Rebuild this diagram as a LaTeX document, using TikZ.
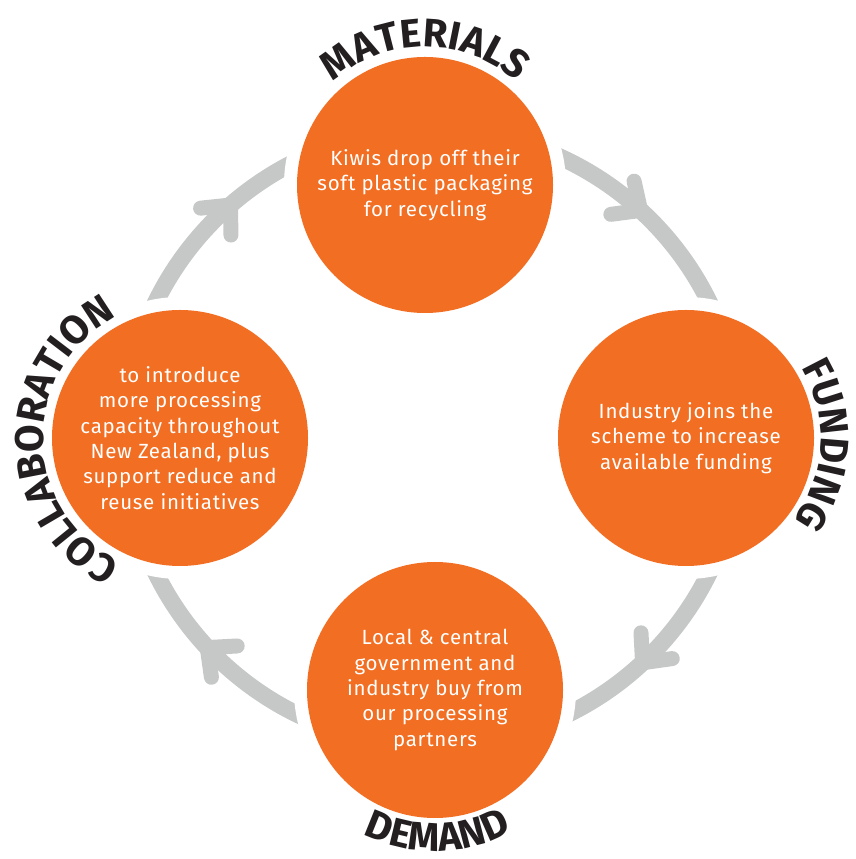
\documentclass[tikz,border=0pt]{standalone}
\usepackage{fontspec}
\usetikzlibrary{decorations.text,calc}
\newfontfamily\bodyf{Fira Sans}[LetterSpace=3.5]
\newfontfamily\labf{Fira Sans}
\definecolor{orng}{RGB}{242,110,34}
\definecolor{ringgray}{RGB}{198,200,199}
\definecolor{labblack}{RGB}{35,31,32}
\tikzset{
  disc/.style={circle, fill=orng, minimum size=256pt, inner sep=0pt, align=center, text=white, font=\bodyf\fontsize{20.5}{25.3}\selectfont},
  halo/.style={circle, fill=white, minimum size=282pt, inner sep=0pt},
  chev/.style={draw=ringgray, line width=15pt, line cap=round, line join=round},
  ring/.style={draw=ringgray, line width=17pt}
}
\begin{document}
\begin{tikzpicture}[x=1pt,y=1pt]
\useasboundingbox (0,0) rectangle (856,859);
\coordinate (C) at (432.5,421.5);
\draw[ring] (C) circle[radius=308];
% chevron joints
\coordinate (j1) at ($(C)+(47.5:308)$);
\coordinate (j2) at ($(C)+(-47:308)$);
\coordinate (j3) at ($(C)+(-137:308)$);
\coordinate (j4) at ($(C)+(131:308)$);
\draw[chev] ($(j1)+(47.5+55:30)$) -- (j1) -- ($(j1)+(47.5+140:30)$);
\draw[chev] ($(j2)+(-47+55:30)$) -- (j2) -- ($(j2)+(-47+140:30)$);
\draw[chev] ($(j3)+(-137+55:30)$) -- (j3) -- ($(j3)+(-137+140:30)$);
\draw[chev] ($(j4)+(131+55:30)$) -- (j4) -- ($(j4)+(131+140:30)$);
% halos
\node[halo] (hmat) at (425,674) {};
\node[halo] (hfun) at (686,421) {};
\node[halo] (hdem) at (435,169) {};
\node[halo] (hcol) at (180,421) {};
% discs
\node[disc] (mat) at (425,674) {Kiwis drop off their\\soft plastic packaging\\for recycling};
\node[disc] (fun) at (686,421) {Industry joins the\\scheme to increase\\available funding};
\node[disc] (dem) at (435,169) {Local \& central\\government and\\industry buy from\\our processing\\partners};
\node[disc] (col) at (180,421) {to introduce\\more processing\\capacity throughout\\New Zealand, plus\\support reduce and\\reuse initiatives};
% curved labels
\path[decorate, decoration={text along path, text align=center, text color=labblack,
  text={|\labf\bfseries\fontsize{40}{44}\selectfont|MATERIALS}}]
  ($(mat.center)+(180:138)$) arc[start angle=180, end angle=0, radius=138];
\path[decorate, decoration={text along path, text align=center, text color=labblack,
  text={|\labf\bfseries\fontsize{40}{44}\selectfont|FUNDING}}]
  ($(fun.center)+(87:135)$) arc[start angle=87, end angle=-93, radius=135];
\path[decorate, decoration={text along path, text align=center, text color=labblack,
  text={|\labf\bfseries\fontsize{40}{44}\selectfont|DEMAND}}]
  ($(dem.center)+(-179:161)$) arc[start angle=-179, end angle=1, radius=161];
\path[decorate, decoration={text along path, text align=center, text color=labblack,
  text={|\labf\bfseries\fontsize{40}{44}\selectfont|COLLABORATION}}]
  ($(col.center)+(271:137)$) arc[start angle=271, end angle=91, radius=137];
\end{tikzpicture}
\end{document}
